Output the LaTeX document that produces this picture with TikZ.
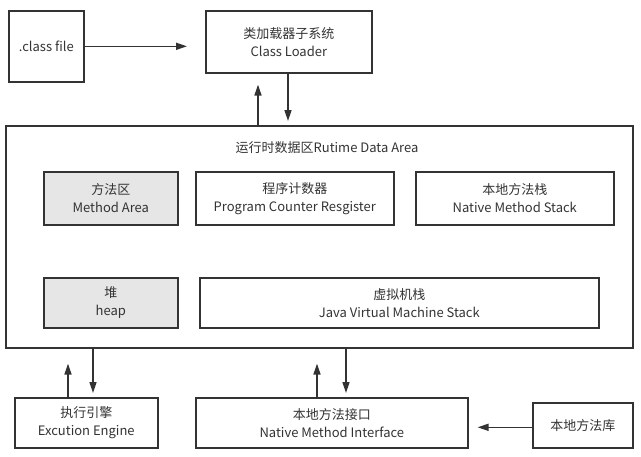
\documentclass[tikz,border=0pt]{standalone}
\usepackage{fontspec}
\setmainfont{Noto Sans CJK SC}
\usetikzlibrary{arrows.meta}
\definecolor{ln}{HTML}{333333}
\definecolor{gr}{HTML}{E6E6E6}
\definecolor{tx}{HTML}{333333}
\tikzset{
  box/.style={draw=ln, line width=1.6pt, anchor=north west, inner sep=0pt, align=center,
    font=\fontsize{13}{18}\selectfont, text=tx},
  gbox/.style={box, fill=gr},
  arr/.style={draw=ln, line width=1.6pt, -{Triangle[length=11pt,width=7pt]}},
}
\begin{document}
\begin{tikzpicture}[x=1pt,y=-1pt]
\useasboundingbox (0,0) rectangle (641,456);
\node[box, minimum width=75pt, minimum height=71pt] (cf) at (8,10) {.class file};
\node[box, minimum width=166pt, minimum height=62pt] (cl) at (205,10) {类加载器子系统\\Class Loader};
\node[box, minimum width=627pt, minimum height=222pt] (rda) at (5,125) {};
\node[font=\fontsize{13}{18}\selectfont, text=tx, inner sep=0pt] (title) at (327,148) {运行时数据区Rutime Data Area};
\node[gbox, minimum width=134pt, minimum height=53pt] (ma) at (43,171) {方法区\\Method Area};
\node[box, minimum width=198pt, minimum height=53pt] (pc) at (195,171) {程序计数器\\Program Counter Resgister};
\node[box, minimum width=198pt, minimum height=53pt] (nms) at (415,171) {本地方法栈\\Native Method Stack};
\node[gbox, minimum width=134pt, minimum height=50pt] (heap) at (43,277) {堆\\heap};
\node[box, minimum width=399pt, minimum height=50pt] (jvm) at (199,277) {虚拟机栈\\Java Virtual Machine Stack};
\node[box, minimum width=143pt, minimum height=50pt] (ee) at (14,397) {执行引擎\\Excution Engine};
\node[box, minimum width=272pt, minimum height=50pt] (nmi) at (195,397) {本地方法接口\\Native Method Interface};
\node[box, minimum width=100pt, minimum height=45pt] (lib) at (532,402) {本地方法库};
% arrows
\draw[arr, shorten >=18pt] (cf.east) -- (cf.east -| cl.west);
\draw[arr, shorten >=11pt] (258,0 |- rda.north) -- (258,0 |- cl.south);
\draw[arr, shorten >=4pt] (288,0 |- cl.south) -- (288,0 |- rda.north);
\draw[arr, shorten >=15pt] (68,0 |- ee.north) -- (68,0 |- rda.south);
\draw[arr, shorten >=4pt] (93,0 |- rda.south) -- (93,0 |- ee.north);
\draw[arr, shorten >=15pt] (317,0 |- nmi.north) -- (317,0 |- rda.south);
\draw[arr, shorten >=4pt] (346,0 |- rda.south) -- (346,0 |- nmi.north);
\draw[arr, shorten >=9pt] ([yshift=-2pt]lib.west) -- ([yshift=-2pt]lib.west -| nmi.east);
\end{tikzpicture}
\end{document}
